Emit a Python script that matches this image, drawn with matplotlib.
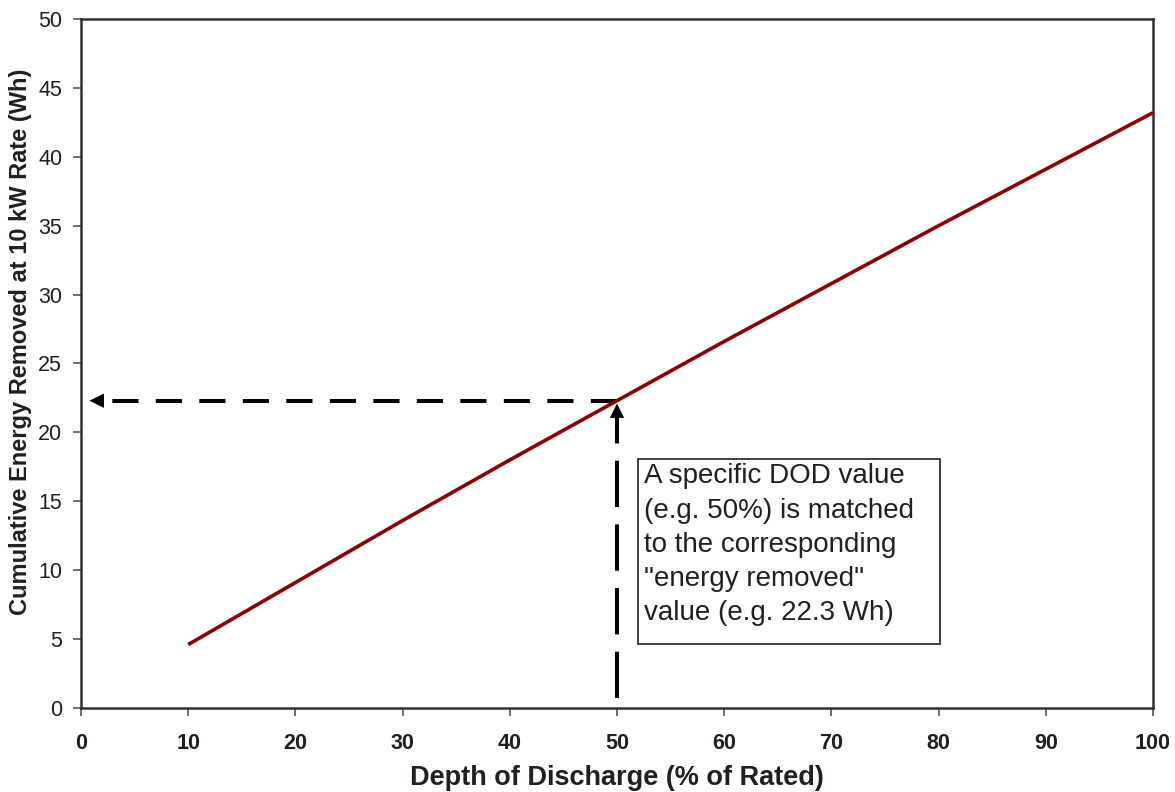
import matplotlib
matplotlib.use("Agg")
import matplotlib.pyplot as plt
from matplotlib.patches import Rectangle

plt.rcParams['font.family'] = ['Liberation Sans', 'DejaVu Sans']

dod = [10, 20, 30, 40, 50, 60, 70, 80, 90, 100]
energy = [4.6, 9.1, 13.6, 18.0, 22.3, 26.6, 30.8, 35.0, 39.1, 43.2]
example_dod = 50
example_energy = 22.3
x_ticks = [0, 10, 20, 30, 40, 50, 60, 70, 80, 90, 100]
y_ticks = [0, 5, 10, 15, 20, 25, 30, 35, 40, 45, 50]
note = ('A specific DOD value\n(e.g. 50%) is matched\nto the corresponding\n'
        '"energy removed"\nvalue (e.g. 22.3 Wh)')

text_col = '#231f20'
fig = plt.figure(figsize=(11.75, 7.92), dpi=100)
ax = fig.add_axes([0.0689, 0.1061, 0.9124, 0.8699])

ax.plot(dod, energy, color='#8b0000', lw=2.6, solid_capstyle='butt', zorder=3)

# horizontal dashed arrow
ax.plot([example_dod, 2.4], [example_energy, example_energy], color='black',
        lw=2.9, dashes=(6.5, 4.3), dash_capstyle='butt', zorder=2)
ax.annotate('', xy=(0.8, example_energy), xytext=(2.8, example_energy),
            arrowprops=dict(arrowstyle='-|>', color='black', lw=0,
                            mutation_scale=26, shrinkA=0, shrinkB=0))
# vertical dashed arrow
ax.plot([example_dod, example_dod], [0.7, example_energy - 1.0], color='black',
        lw=2.9, dashes=(11.5, 4.3), dash_capstyle='butt', zorder=2)
ax.annotate('', xy=(example_dod, example_energy - 0.2),
            xytext=(example_dod, example_energy - 1.3),
            arrowprops=dict(arrowstyle='-|>', color='black', lw=0,
                            mutation_scale=26, shrinkA=0, shrinkB=0))

ax.add_patch(Rectangle((52.0, 4.64), 28.1, 13.43, fc='white', ec='#333333',
                       lw=1.3, zorder=4))
ax.text(52.55, 17.75, note, fontsize=20, color=text_col, va='top', ha='left',
        linespacing=1.41, zorder=5)

ax.set_xlim(0, 100)
ax.set_ylim(0, 50)
ax.set_xticks(x_ticks)
ax.set_yticks(y_ticks)
ax.tick_params(axis='x', direction='out', length=6, width=1.2, color='#555555',
               labelsize=15.5, labelcolor=text_col, pad=12)
ax.tick_params(axis='y', direction='out', length=6, width=1.2, color='#555555',
               labelsize=15.5, labelcolor=text_col, pad=7.5)
for lab in ax.get_xticklabels():
    lab.set_fontweight('bold')
for sp in ax.spines.values():
    sp.set_color('#333333')
    sp.set_linewidth(1.8)

ax.set_xlabel('Depth of Discharge (% of Rated)', fontsize=19.5, fontweight='bold',
              color=text_col, labelpad=8)
ax.set_ylabel('Cumulative Energy Removed at 10 kW Rate (Wh)', fontsize=17,
              fontweight='bold', color=text_col)
ax.yaxis.set_label_coords(-0.0452, 0.531)

fig.savefig('out.png', dpi=100)
